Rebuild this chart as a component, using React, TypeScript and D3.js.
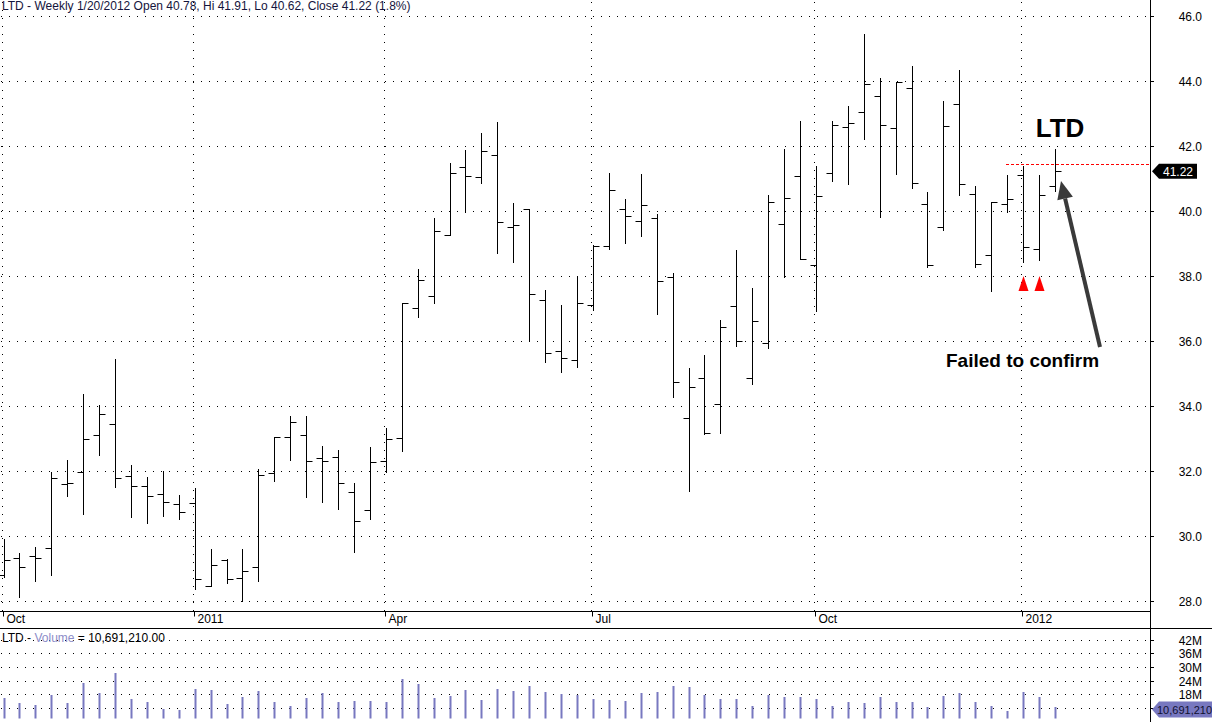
import { useRef, useEffect } from 'react';
import * as d3 from 'd3';

// weekly bars, 10/15/2010 .. 1/20/2012
const opens = [
  28.80, 29.31, 29.39, 29.62, 31.59, 31.96, 33.10, 33.44, 31.84, 31.53, 31.28, 30.98, 31.01, 28.46,
  29.25, 28.70, 29.05, 31.93, 33.04, 33.11, 32.39, 32.42, 31.34, 30.79, 32.30, 33.01, 37.03, 37.38,
  39.27, 41.34, 41.04, 41.71, 39.50, 40.06, 37.25, 35.69, 35.42, 37.10, 38.91, 40.05, 39.68, 39.79,
  37.97, 33.62, 34.85, 34.05, 37.08, 34.85, 35.94, 39.60, 41.08, 38.33, 41.16, 42.57, 43.05, 43.53,
  42.54, 43.80, 40.23, 39.50, 43.28, 40.51, 38.64, 40.23, 41.12, 38.82, 40.78,
];
const highs = [
  29.91, 29.47, 29.66, 31.98, 32.34, 34.37, 34.03, 35.45, 32.17, 31.82, 31.99, 31.25, 31.48, 29.59,
  29.29, 29.59, 32.05, 33.04, 33.69, 33.69, 32.76, 32.64, 31.62, 32.73, 33.31, 37.16, 38.21, 39.78,
  41.47, 41.87, 42.39, 42.73, 40.24, 40.06, 37.57, 37.11, 38.00, 38.95, 41.17, 40.36, 41.14, 39.91,
  38.08, 35.16, 35.57, 36.65, 38.80, 37.63, 40.49, 41.90, 42.78, 41.38, 42.77, 43.23, 45.45, 44.08,
  43.98, 44.45, 40.57, 43.37, 44.33, 40.76, 40.28, 41.10, 41.37, 41.12, 41.91,
];
const lows = [
  28.75, 28.13, 28.63, 28.80, 31.24, 30.69, 32.50, 31.52, 30.59, 30.41, 30.62, 30.53, 28.38, 28.46,
  28.54, 28.01, 28.63, 31.68, 32.35, 31.21, 31.06, 30.84, 29.52, 30.53, 31.96, 32.62, 36.75, 37.16,
  39.26, 39.98, 40.87, 38.72, 38.44, 36.03, 35.35, 35.06, 35.21, 36.95, 38.82, 39.01, 39.24, 36.82,
  34.29, 31.39, 33.14, 33.18, 35.86, 34.67, 35.78, 37.98, 38.51, 36.93, 40.93, 40.84, 42.22, 39.83,
  41.15, 40.72, 38.29, 39.43, 40.50, 38.29, 37.55, 39.96, 38.44, 38.50, 40.62,
];
const closes = [
  29.25, 29.04, 29.33, 31.80, 31.62, 33.00, 33.74, 31.80, 31.53, 31.22, 31.04, 30.73, 28.67, 29.10,
  28.67, 28.91, 31.87, 33.04, 33.50, 32.30, 32.30, 31.62, 30.45, 32.27, 32.98, 37.16, 37.87, 39.38,
  41.16, 41.07, 41.84, 39.65, 39.56, 37.44, 35.62, 35.47, 37.16, 38.91, 40.64, 39.84, 40.18, 37.86,
  34.73, 34.58, 33.16, 36.42, 35.99, 36.61, 40.29, 40.39, 38.51, 40.45, 42.66, 42.72, 43.90, 42.65,
  43.96, 40.87, 38.33, 42.60, 40.84, 38.38, 40.28, 40.36, 38.89, 40.48, 41.22,
];
// millions of shares
const volumes = [
  16.5, 14.3, 13.4, 17.8, 14.3, 23.1, 18.7, 27.5, 16.0, 14.7, 11.6, 11.2, 20.4, 20.0,
  13.8, 16.9, 19.6, 14.7, 13.0, 16.5, 18.7, 14.7, 15.2, 15.2, 14.7, 24.8, 22.6, 16.5,
  17.4, 20.0, 15.6, 20.4, 19.6, 21.8, 19.1, 18.2, 17.8, 16.0, 15.6, 15.2, 18.7, 19.1,
  21.8, 21.3, 17.8, 16.0, 16.0, 13.0, 17.8, 16.9, 16.9, 16.0, 13.0, 14.7, 14.3, 16.9,
  14.7, 14.7, 12.5, 17.4, 18.7, 14.7, 13.0, 10.7, 19.1, 16.9, 12.5,
];
const priceTicks = [28, 30, 32, 34, 36, 38, 40, 42, 44, 46];
const volumeTicks = [42, 36, 30, 24, 18, 12];
const volumeTickLabels = ['42M', '36M', '30M', '24M', '18M', ''];
const signalBars = [64, 65];
const signalLevel = 38.0;
const resistanceLevel = 41.44;
const lastVolumeLabel = '10,691,210';
const headerText = 'LTD - Weekly 1/20/2012 Open 40.78, Hi 41.91, Lo 40.62, Close 41.22 (1.8%)';

const FONT = '"Liberation Sans", Arial, sans-serif';

export default function App() {
  const svgRef = useRef<SVGSVGElement>(null);

  useEffect(() => {
    if (!svgRef.current) return;
    const W = 1212;
    const H = 722;
    const axisX = 1150;
    const priceBottom = 611.5;
    const volTop = 628.5;
    const volBottom = 718.5;

    const svg = d3.select(svgRef.current).attr('width', W).attr('height', H);
    svg.selectAll('*').remove();

    const dates = d3.timeFriday.range(new Date(2010, 9, 15), new Date(2012, 0, 21));
    const data = dates.map((d, i) => ({
      date: d, i, o: opens[i], h: highs[i], l: lows[i], c: closes[i], v: volumes[i],
    }));

    const x = d3.scalePoint<number>().domain(d3.range(data.length)).range([3.5, 1054.9]);
    const px = (i: number) => Math.round(x(i) as number) + 0.5;
    const y = d3.scaleLinear().domain([28, 46]).range([601, 16]);
    const yv = d3.scaleLinear().domain([0, 42]).range([735.1, 639.7]);

    // month ticks: first bar of each quarter
    const monthTicks = data.filter((d, i) => {
      if (i === 0) return true;
      const m = d.date.getMonth();
      return m !== data[i - 1].date.getMonth() && m % 3 === 0;
    });
    const monthLabel = (d: Date) => (d.getMonth() === 0 ? d3.timeFormat('%Y')(d) : d3.timeFormat('%b')(d));

    svg.append('rect').attr('width', W).attr('height', H).attr('fill', '#fff');

    // Grid
    const grid = svg.append('g').attr('stroke', '#000').attr('stroke-dasharray', '1 7');
    priceTicks.forEach(t => {
      const yy = Math.round(y(t)) + 0.5;
      grid.append('line').attr('x1', 1).attr('x2', axisX - 2).attr('y1', yy).attr('y2', yy);
    });
    monthTicks.forEach(d => {
      const xx = Math.round(x(d.i) as number) - 1.5;
      grid.append('line').attr('x1', xx).attr('x2', xx).attr('y1', 2).attr('y2', priceBottom);
    });
    volumeTicks.forEach(t => {
      const yy = Math.round(yv(t)) + 0.5;
      grid.append('line').attr('x1', 1).attr('x2', axisX - 2).attr('y1', yy).attr('y2', yy);
    });

    // Header
    svg.append('text')
      .attr('x', 2).attr('y', 10)
      .attr('font-family', FONT).attr('font-size', 12).attr('fill', '#14143c')
      .text(headerText);

    // Resistance line
    svg.append('line')
      .attr('x1', 1006).attr('x2', axisX)
      .attr('y1', Math.round(y(resistanceLevel)) + 0.5).attr('y2', Math.round(y(resistanceLevel)) + 0.5)
      .attr('stroke', '#ff0000').attr('stroke-dasharray', '3 2');

    // OHLC bars
    const bars = svg.append('g').attr('stroke', '#000').attr('stroke-width', 1);
    data.forEach(d => {
      const xx = px(d.i);
      bars.append('line').attr('x1', xx).attr('x2', xx)
        .attr('y1', Math.round(y(d.h))).attr('y2', Math.round(y(d.l)) + 1);
      const yo = Math.round(y(d.o)) + 0.5;
      const yc = Math.round(y(d.c)) + 0.5;
      bars.append('line').attr('x1', xx - 6).attr('x2', xx).attr('y1', yo).attr('y2', yo);
      bars.append('line').attr('x1', xx).attr('x2', xx + 6).attr('y1', yc).attr('y2', yc);
    });

    // Signal arrows
    signalBars.forEach(i => {
      const xx = px(i);
      const yy = y(signalLevel);
      svg.append('path')
        .attr('d', `M${xx},${yy} L${xx + 5},${yy + 15} L${xx - 5},${yy + 15} Z`)
        .attr('fill', '#ff0000');
    });

    // Annotations
    svg.append('text')
      .attr('x', 1060).attr('y', 137)
      .attr('text-anchor', 'middle')
      .attr('font-family', FONT).attr('font-weight', 'bold').attr('font-size', 26)
      .attr('fill', '#000').text('LTD');

    svg.append('text')
      .attr('x', 946).attr('y', 367)
      .attr('font-family', FONT).attr('font-weight', 'bold').attr('font-size', 19)
      .attr('fill', '#000').text('Failed to confirm');

    const tip = [1061, 181];
    const tail = [1100, 347];
    const ang = Math.atan2(tail[1] - tip[1], tail[0] - tip[0]);
    const headLen = 18;
    const headW = 8;
    const bx = tip[0] + Math.cos(ang) * headLen;
    const by = tip[1] + Math.sin(ang) * headLen;
    svg.append('line')
      .attr('x1', tail[0]).attr('y1', tail[1]).attr('x2', bx).attr('y2', by)
      .attr('stroke', '#3a3a3a').attr('stroke-width', 4);
    svg.append('path')
      .attr('d', `M${tip[0]},${tip[1]} L${bx - Math.sin(ang) * headW},${by + Math.cos(ang) * headW} L${bx + Math.sin(ang) * headW},${by - Math.cos(ang) * headW} Z`)
      .attr('fill', '#3a3a3a');

    // Frame lines
    svg.append('line').attr('x1', 0).attr('x2', axisX).attr('y1', priceBottom).attr('y2', priceBottom).attr('stroke', '#000');
    svg.append('line').attr('x1', 0).attr('x2', W).attr('y1', volTop).attr('y2', volTop).attr('stroke', '#000');
    svg.append('line').attr('x1', axisX + 0.5).attr('x2', axisX + 0.5).attr('y1', 0).attr('y2', H).attr('stroke', '#000');

    // Date axis
    const dateAxis = svg.append('g');
    monthTicks.forEach(d => {
      const xx = Math.round(x(d.i) as number) - 0.5;
      dateAxis.append('line').attr('x1', xx).attr('x2', xx).attr('y1', priceBottom).attr('y2', priceBottom + 5).attr('stroke', '#000');
      dateAxis.append('text')
        .attr('x', xx + 3).attr('y', 623)
        .attr('font-family', FONT).attr('font-size', 12).attr('fill', '#000')
        .text(monthLabel(d.date));
    });

    // Price axis
    const pAxis = svg.append('g');
    priceTicks.forEach(t => {
      const yy = Math.round(y(t)) + 0.5;
      pAxis.append('line').attr('x1', axisX).attr('x2', axisX + 4).attr('y1', yy).attr('y2', yy).attr('stroke', '#000');
      pAxis.append('text')
        .attr('x', 1202).attr('y', yy + 4.5)
        .attr('text-anchor', 'end')
        .attr('font-family', FONT).attr('font-size', 12).attr('fill', '#000')
        .text(t.toFixed(1));
    });

    // Last price marker
    const lastY = y(closes[closes.length - 1]);
    svg.append('path')
      .attr('d', `M1152,${lastY} L1159,${lastY - 7.5} L1197,${lastY - 7.5} L1197,${lastY + 7.5} L1159,${lastY + 7.5} Z`)
      .attr('fill', '#000');
    svg.append('text')
      .attr('x', 1178).attr('y', lastY + 4.5)
      .attr('text-anchor', 'middle')
      .attr('font-family', FONT).attr('font-size', 12).attr('fill', '#fff')
      .text(closes[closes.length - 1].toFixed(2));

    // Volume pane
    const volTitle = svg.append('text')
      .attr('x', 2).attr('y', 642)
      .attr('font-family', FONT).attr('font-size', 12);
    volTitle.append('tspan').attr('fill', '#000').text('LTD - ');
    volTitle.append('tspan').attr('fill', '#8c8cc8').text('Volume');
    volTitle.append('tspan').attr('fill', '#000').text(' = 10,691,210.00');

    svg.append('g')
      .selectAll('rect')
      .data(data)
      .enter()
      .append('rect')
      .attr('x', d => Math.round(x(d.i) as number) - 0.5)
      .attr('y', d => Math.round(yv(d.v)))
      .attr('width', 2)
      .attr('height', d => volBottom - Math.round(yv(d.v)))
      .attr('fill', '#7878c0');

    const vAxis = svg.append('g');
    volumeTicks.forEach((t, k) => {
      const yy = Math.round(yv(t)) + 0.5;
      vAxis.append('line').attr('x1', axisX).attr('x2', axisX + 4).attr('y1', yy).attr('y2', yy).attr('stroke', '#000');
      vAxis.append('text')
        .attr('x', 1202).attr('y', yy + 4.5)
        .attr('text-anchor', 'end')
        .attr('font-family', FONT).attr('font-size', 12).attr('fill', '#000')
        .text(volumeTickLabels[k]);
    });

    const lastVY = 709.5;
    svg.append('path')
      .attr('d', `M1152,${lastVY} L1159,${lastVY - 8} L${W},${lastVY - 8} L${W},${lastVY + 8} L1159,${lastVY + 8} Z`)
      .attr('fill', '#7878c0');
    svg.append('text')
      .attr('x', 1157).attr('y', lastVY + 4)
      .attr('font-family', FONT).attr('font-size', 11).attr('fill', '#101030')
      .text(lastVolumeLabel);
  }, []);

  return (
    <div style={{ position: 'absolute', left: 0, top: 0, width: 1212, height: 722, overflow: 'hidden' }}>
      <svg ref={svgRef} style={{ display: 'block' }} />
    </div>
  );
}
